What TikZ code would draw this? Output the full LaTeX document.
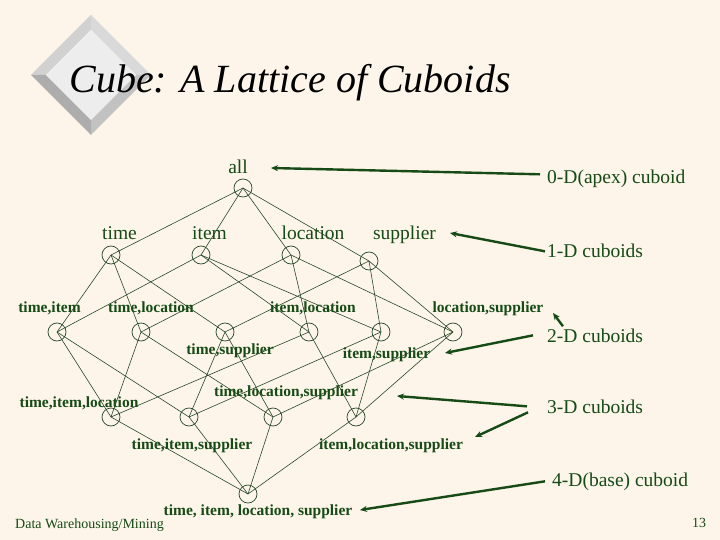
\documentclass[tikz,border=0pt]{standalone}
\usepackage{fontspec}
\setmainfont{Liberation Serif}
\usetikzlibrary{arrows.meta,calc}
\definecolor{bg}{RGB}{253,245,233}
\definecolor{ink}{RGB}{22,74,22}
\definecolor{edgec}{RGB}{40,72,40}
\begin{document}
\begin{tikzpicture}[x=1pt,y=-1pt,
  cub/.style={circle,draw=edgec,line width=0.7pt,minimum size=18pt,inner sep=0pt},
  lk/.style={draw=edgec,line width=0.6pt},
  lbl/.style={text=ink,font=\fontsize{15.5}{16}\selectfont\bfseries,anchor=base,inner sep=0pt},
  dimlbl/.style={text=ink,font=\fontsize{19.5}{20}\selectfont,anchor=base,inner sep=0pt},
  note/.style={text=ink,font=\fontsize{19.5}{20}\selectfont,anchor=base west,inner sep=0pt},
  ptr/.style={draw=ink,line width=2.4pt,-{Stealth[length=7pt,width=6pt]}}]
\fill[bg] (0,0) rectangle (720,540);
\useasboundingbox (0,0) rectangle (720,540);
% bevelled diamond
\fill[gray!36] (31,75) -- (91,15) -- (91,30) -- (46,75) -- cycle;
\fill[gray!30] (91,15) -- (151,75) -- (136,75) -- (91,30) -- cycle;
\fill[gray!48] (151,75) -- (91,135) -- (91,120) -- (136,75) -- cycle;
\fill[gray!64] (91,135) -- (31,75) -- (46,75) -- (91,120) -- cycle;
\fill[gray!14] (46,75) -- (91,30) -- (136,75) -- (91,120) -- cycle;
\node[anchor=base,inner sep=0pt,font=\fontsize{40}{42}\selectfont\itshape] (title) at (290,93) {Cube: A Lattice of Cuboids};
% cuboid circles
\node[cub] (all) at (243,188) {};
\node[cub] (t) at (111,255) {};
\node[cub] (i) at (201,255) {};
\node[cub] (l) at (291,255) {};
\node[cub] (s) at (369,261) {};
\node[cub] (ti) at (57,332) {};
\node[cub] (tl) at (141,332) {};
\node[cub] (ts) at (225,332) {};
\node[cub] (il) at (309,332) {};
\node[cub] (is) at (381,332) {};
\node[cub] (ls) at (453,332) {};
\node[cub] (til) at (111,417) {};
\node[cub] (tis) at (189,417) {};
\node[cub] (tls) at (273,417) {};
\node[cub] (ils) at (356,417) {};
\node[cub] (base) at (248,494) {};
% links
\foreach \a/\b in {all/t,all/i,all/l,all/s,
  t/ti,t/tl,t/ts,i/ti,i/il,i/is,l/tl,l/il,l/ls,s/ts,s/is,s/ls,
  ti/til,ti/tis,tl/til,tl/tls,ts/tis,ts/tls,il/til,il/ils,is/tis,is/ils,ls/tls,ls/ils,
  til/base,tis/base,tls/base,ils/base}
  \draw[lk] (\a.center) -- (\b.center);
% labels
\node[dimlbl] (lall) at (238,174) {all};
\node[dimlbl] (lt) at (119.5,240) {time};
\node[dimlbl] (li) at (209.5,240) {item};
\node[dimlbl] (ll) at (313,240) {location};
\node[dimlbl] (ls0) at (404.5,240) {supplier};
\node[lbl] (lti) at (49.5,312) {time,item};
\node[lbl] (ltl) at (151,312) {time,location};
\node[lbl] (lil) at (313,312) {item,location};
\node[lbl] (lls) at (488,312) {location,supplier};
\node[lbl] (lts) at (230,354) {time,supplier};
\node[lbl] (lis) at (386.5,358) {item,supplier};
\node[lbl] (ltil) at (79,407) {time,item,location};
\node[lbl] (ltls) at (286,396) {time,location,supplier};
\node[lbl] (ltis) at (192,449) {time,item,supplier};
\node[lbl] (lils) at (391,449) {item,location,supplier};
\node[lbl] (lbase) at (258,515) {time, item, location, supplier};
% notes
\node[note] (d0) at (547,184) {0-D(apex) cuboid};
\node[note] (d1) at (547,258) {1-D cuboids};
\node[note] (d2) at (547,342) {2-D cuboids};
\node[note] (d3) at (547,413) {3-D cuboids};
\node[note] (d4) at (552,486) {4-D(base) cuboid};
\node[anchor=base west,inner sep=0pt,text=ink,font=\fontsize{14}{15}\selectfont] (foot) at (15,528) {Data Warehousing/Mining};
\node[anchor=base,inner sep=0pt,text=ink,font=\fontsize{14}{15}\selectfont] (pg) at (699,527) {13};
% pointers
\coordinate (e0) at (271,168);
\coordinate (e1) at (450,233);
\coordinate (e2a) at (553,313);
\coordinate (e2b) at (445,353);
\coordinate (e3a) at (397,396);
\coordinate (e3b) at (475,437);
\coordinate (e4) at (360,510);
\draw[ptr] ($(d0.west)+(-7,-5)$) -- (e0);
\draw[ptr] ($(d1.west)+(-2,0)$) -- (e1);
\draw[ptr] ($(d2.north west)+(16,-2)$) -- (e2a);
\draw[ptr] ($(d2.west)+(-14,0)$) -- (e2b);
\draw[ptr] ($(d3.west)+(-20,0)$) -- (e3a);
\draw[ptr] ($(d3.west)+(-19,6)$) -- (e3b);
\draw[ptr] ($(d4.west)+(-7,0)$) -- (e4);
\end{tikzpicture}
\end{document}
